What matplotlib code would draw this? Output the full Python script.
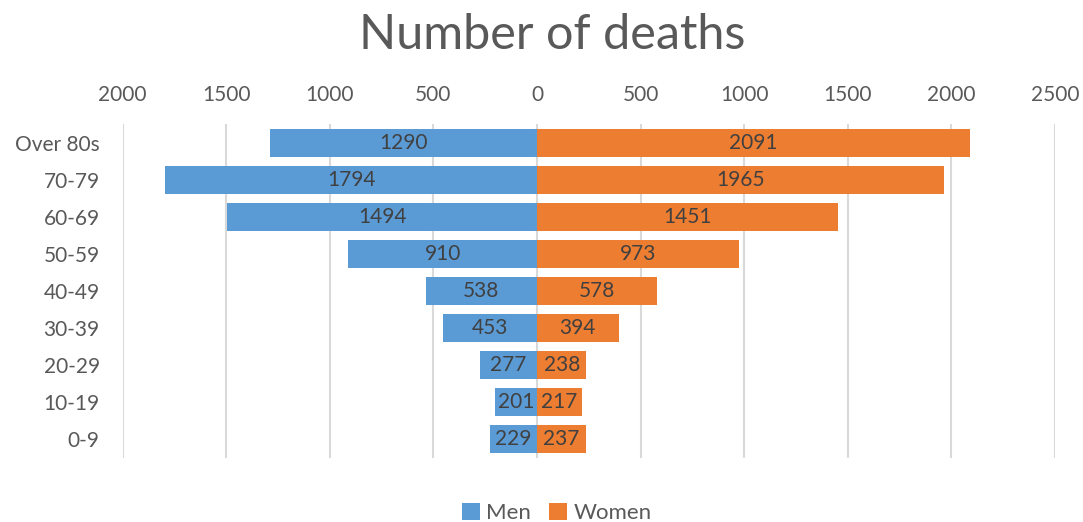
import numpy as np
import matplotlib
matplotlib.use("Agg")
import matplotlib.pyplot as plt

plt.rcParams['font.family'] = ['Lato', 'DejaVu Sans']

# Data
age_groups = ['0-9', '10-19', '20-29', '30-39', '40-49', '50-59', '60-69', '70-79', 'Over 80s']
men = np.array([229, 201, 277, 453, 538, 910, 1494, 1794, 1290])
women = np.array([237, 217, 238, 394, 578, 973, 1451, 1965, 2091])
ticks = [-2000, -1500, -1000, -500, 0, 500, 1000, 1500, 2000, 2500]

blue = '#5B9BD5'
orange = '#ED7D31'
text_col = '#595959'

fig = plt.figure(figsize=(10.83, 5.22), dpi=100)
ax = fig.add_axes([0.1132, 0.1226, 0.8609, 0.6399])

y = np.arange(len(age_groups))
h = 0.755
bm = ax.barh(y, -men, height=h, color=blue, label='Men', zorder=3)
bw = ax.barh(y, women, height=h, color=orange, label='Women', zorder=3)

for yi, v in zip(y, men):
    ax.text(-v / 2, yi, str(v), ha='center', va='center', fontsize=15, color='#404040', zorder=4)
for yi, v in zip(y, women):
    ax.text(v / 2, yi, str(v), ha='center', va='center', fontsize=15, color='#404040', zorder=4)

ax.set_xlim(-2000, 2500)
ax.set_ylim(-0.5, 8.5)
ax.set_xticks(ticks)
ax.set_xticklabels([str(abs(t)) for t in ticks])
ax.xaxis.tick_top()
ax.set_yticks(y)
ax.set_yticklabels(age_groups)
ax.tick_params(axis='x', length=0, pad=14, labelsize=15, labelcolor=text_col)
ax.tick_params(axis='y', length=0, pad=16.5, labelsize=15, labelcolor=text_col)
ax.grid(axis='x', color='#D9D9D9', lw=1.5, zorder=0)
for s in ax.spines.values():
    s.set_visible(False)

fig.suptitle('Number of deaths', x=0.51, y=0.975, fontsize=35, color=text_col)
fig.legend(handles=[bm, bw], loc='lower center', bbox_to_anchor=(0.514, -0.04), ncol=2,
           frameon=False, fontsize=16, handlelength=0.8, handleheight=0.8,
           handletextpad=0.3, columnspacing=0.8, labelcolor=text_col)

fig.savefig('out.png', dpi=100)
